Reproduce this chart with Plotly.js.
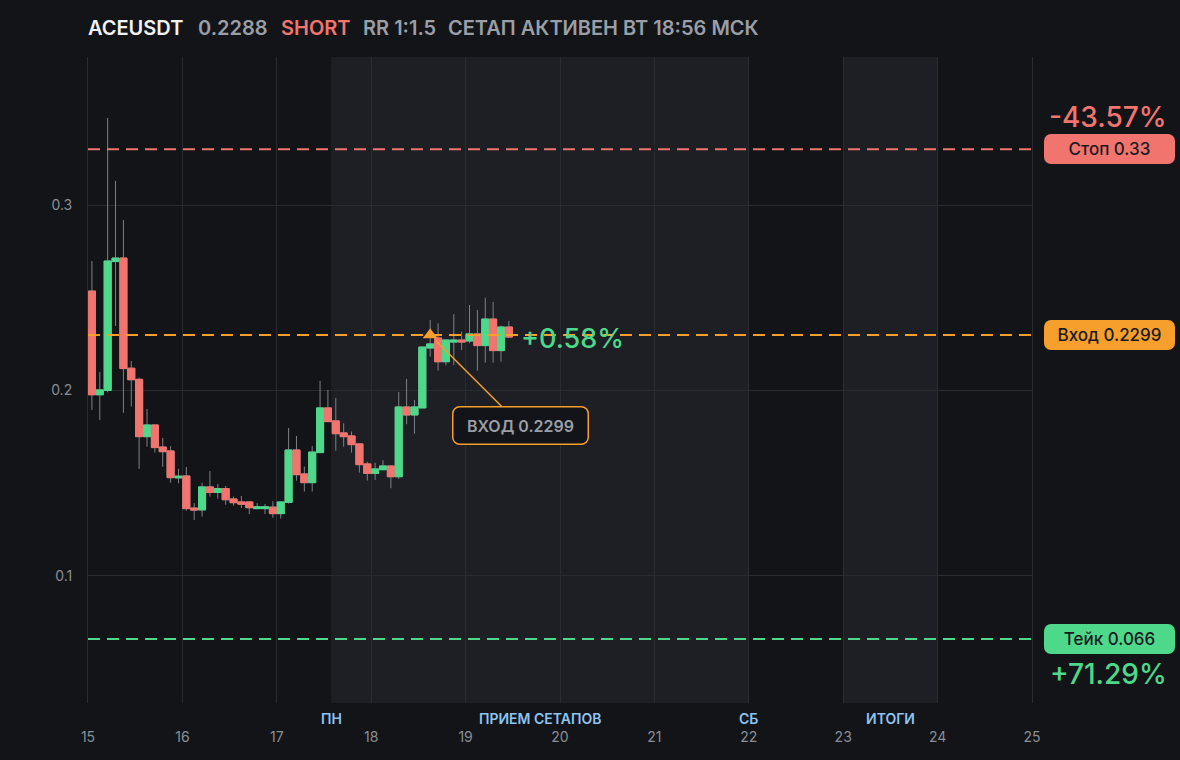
<!DOCTYPE html>
<html>
<head>
<meta charset="utf-8">
<script src="https://cdn.plot.ly/plotly-3.0.1.min.js"></script>
<style>
  html, body { margin: 0; padding: 0; background: #131418; }
  #chart { width: 1180px; height: 760px; }
</style>
</head>
<body>
<div id="chart"></div>
<script>
// ---- data (2h candles, ACEUSDT) ----
const startDay = 15;
const candleHours = 2;
const openP  = [0.2536,0.1977,0.2000,0.2695,0.2714,0.2120,0.2060,0.1751,0.1814,0.1695,
                0.1674,0.1529,0.1539,0.1366,0.1356,0.1480,0.1450,0.1471,0.1415,0.1399,
                0.1399,0.1363,0.1363,0.1371,0.1336,0.1397,0.1679,0.1550,0.1503,0.1665,
                0.1906,0.1836,0.1771,0.1755,0.1712,0.1604,0.1553,0.1573,0.1593,0.1535,
                0.1911,0.1868,0.1906,0.2229,0.2283,0.2155,0.2261,0.2272,0.2267,0.2305,
                0.2242,0.2385,0.2215,0.2342];
const highP  = [0.2698,0.2100,0.3469,0.3130,0.2919,0.2159,0.2070,0.1900,0.1814,0.1744,
                0.1700,0.1578,0.1588,0.1393,0.1503,0.1566,0.1496,0.1485,0.1428,0.1431,
                0.1400,0.1393,0.1388,0.1403,0.1400,0.1798,0.1755,0.1590,0.1701,0.2051,
                0.2003,0.1960,0.1823,0.1779,0.1715,0.1616,0.1610,0.1624,0.1595,0.1992,
                0.2062,0.1949,0.2234,0.2380,0.2362,0.2275,0.2412,0.2317,0.2461,0.2434,
                0.2500,0.2477,0.2350,0.2375];
const lowP   = [0.1895,0.1841,0.1990,0.2348,0.1880,0.1913,0.1578,0.1697,0.1665,0.1589,
                0.1503,0.1500,0.1352,0.1302,0.1320,0.1428,0.1417,0.1384,0.1379,0.1366,
                0.1334,0.1360,0.1334,0.1314,0.1310,0.1390,0.1514,0.1455,0.1455,0.1665,
                0.1832,0.1675,0.1697,0.1665,0.1557,0.1514,0.1518,0.1570,0.1473,0.1524,
                0.1818,0.1767,0.1906,0.2182,0.2107,0.2135,0.2137,0.2218,0.2255,0.2107,
                0.2150,0.2150,0.2155,0.2283];
const closeP = [0.1977,0.2003,0.2698,0.2714,0.2118,0.2058,0.1751,0.1814,0.1692,0.1670,
                0.1530,0.1538,0.1363,0.1355,0.1480,0.1450,0.1471,0.1411,0.1395,0.1387,
                0.1368,0.1373,0.1373,0.1336,0.1399,0.1679,0.1546,0.1503,0.1668,0.1906,
                0.1832,0.1767,0.1751,0.1708,0.1600,0.1553,0.1577,0.1593,0.1535,0.1911,
                0.1868,0.1911,0.2234,0.2251,0.2155,0.2272,0.2272,0.2261,0.2305,0.2242,
                0.2385,0.2215,0.2342,0.2288];

const symbol = "ACEUSDT";
const lastPrice = "0.2288";
const side = "SHORT";
const rrText = "RR 1:1.5";
const statusText = "СЕТАП АКТИВЕН ВТ 18:56 МСК";

const entryPrice = 0.2299, stopPrice = 0.33, takePrice = 0.066;
const entryCandleIndex = 43;
const pnlText = "+0.58%", stopPctText = "-43.57%", takePctText = "+71.29%";

const xTicks = [15,16,17,18,19,20,21,22,23,24,25];
const yTicks = [0.1,0.2,0.3];

// session zones [start, end] in days and labels
const zones = [[17.575, 22], [23, 24]];
const zoneLabels = [
  {x: 17.575, text: "ПН"},
  {x: 19.7875, text: "ПРИЕМ СЕТАПОВ"},
  {x: 22, text: "СБ"},
  {x: 23.5, text: "ИТОГИ"}
];

// ---- colors ----
const BG = "#131418", ZONE = "#1e1f24", GRID = "#2a2b31";
const RED = "#f2746e", GREEN = "#4dd88a", ORANGE = "#f79f2c", WICK = "#7d8087";
const GRAY = "#9a9ea6", TICK = "#8a8e96", BLUE = "#8cc4f2";
const FONT = "Inter, 'Noto Sans', sans-serif";

const times = openP.map((_, i) => startDay + (i + 0.5) * candleHours / 24);
const bodyHigh = openP.map((o, i) => Math.max(o, closeP[i]));
const bodyLow  = openP.map((o, i) => Math.min(o, closeP[i]));

const wicks = {
  type: "candlestick", x: times, open: openP, high: highP, low: lowP, close: closeP,
  increasing: {line: {color: WICK, width: 1}, fillcolor: WICK},
  decreasing: {line: {color: WICK, width: 1}, fillcolor: WICK},
  hoverinfo: "skip", showlegend: false
};
const bodies = {
  type: "candlestick", x: times, open: openP, high: bodyHigh, low: bodyLow, close: closeP,
  increasing: {line: {color: GREEN, width: 1}, fillcolor: GREEN},
  decreasing: {line: {color: RED, width: 1}, fillcolor: RED},
  hoverinfo: "skip", showlegend: false
};
const entryMark = {
  type: "scatter", mode: "markers", x: [times[entryCandleIndex]], y: [entryPrice],
  marker: {symbol: "triangle-up", size: 13, color: ORANGE},
  cliponaxis: false, hoverinfo: "skip", showlegend: false
};

const shapes = [];
zones.forEach(z => shapes.push({
  type: "rect", xref: "x", yref: "paper", x0: z[0], x1: z[1], y0: 0, y1: 1,
  fillcolor: ZONE, line: {width: 0}, layer: "below"
}));
[[stopPrice, RED], [entryPrice, ORANGE], [takePrice, GREEN]].forEach(([p, c]) => shapes.push({
  type: "line", xref: "paper", yref: "y", x0: 0, x1: 1, y0: p, y1: p,
  line: {color: c, width: 2, dash: "12px,7px"}, layer: "above"
}));

const ann = [];
// title parts
const titleParts = [
  {px: 88, text: symbol, color: "#f2f2f2"},
  {px: 198, text: lastPrice, color: GRAY},
  {px: 281, text: side, color: RED},
  {px: 363, text: rrText, color: GRAY},
  {px: 448, text: statusText, color: GRAY}
];
titleParts.forEach(p => ann.push({
  xref: "paper", yref: "paper", x: (p.px - 88) / 944, y: 1 + 29 / 646,
  xanchor: "left", yanchor: "middle", showarrow: false, text: p.text,
  borderpad: 0, borderwidth: 0,
  font: {family: FONT, size: 20, weight: 600, color: p.color}
}));
// zone labels under the plot
zoneLabels.forEach(l => ann.push({
  xref: "x", yref: "paper", x: l.x, y: -15 / 646, xanchor: "center", yanchor: "middle",
  showarrow: false, text: l.text,
  font: {family: FONT, size: 14, weight: 600, color: BLUE}
}));
// entry callout
ann.push({
  xref: "x", yref: "y", x: times[entryCandleIndex], y: entryPrice,
  ax: 90, ay: 90, showarrow: true, arrowhead: 0, arrowwidth: 1.5, arrowcolor: ORANGE,
  standoff: 8, text: "ВХОД " + entryPrice, bgcolor: "#131419", bordercolor: ORANGE,
  borderwidth: 1.5, borderpad: 5, width: 124, height: 26,
  font: {family: FONT, size: 16, weight: 600, color: GRAY}
});
// live pnl
ann.push({
  xref: "x", yref: "y", x: times[times.length - 1], y: closeP[closeP.length - 1],
  xanchor: "left", yanchor: "middle", xshift: 10, yshift: -1, showarrow: false, text: pnlText,
  font: {family: FONT, size: 27, weight: 500, color: GREEN}
});
// right-side level boxes
[["Стоп " + stopPrice, stopPrice, RED], ["Вход " + entryPrice, entryPrice, ORANGE],
 ["Тейк " + takePrice, takePrice, GREEN]].forEach(([t, p, c]) => ann.push({
  xref: "paper", yref: "y", x: (1109.5 - 88) / 944, y: p, xanchor: "center", yanchor: "middle",
  showarrow: false, text: t, bgcolor: c, borderpad: 0, borderwidth: 0, width: 131, height: 30,
  font: {family: FONT, size: 17, weight: 500, color: "#1a1b1f"}
}));
ann.push({
  xref: "paper", yref: "y", x: (1169 - 88) / 944, y: stopPrice, yshift: 32,
  xanchor: "right", yanchor: "middle", showarrow: false, text: stopPctText,
  font: {family: FONT, size: 28, weight: 500, color: RED}
});
ann.push({
  xref: "paper", yref: "y", x: (1169 - 88) / 944, y: takePrice, yshift: -35,
  xanchor: "right", yanchor: "middle", showarrow: false, text: takePctText,
  font: {family: FONT, size: 28, weight: 500, color: GREEN}
});

const layout = {
  width: 1180, height: 760,
  margin: {l: 88, r: 148, t: 57, b: 57, pad: 0},
  paper_bgcolor: BG, plot_bgcolor: BG,
  font: {family: FONT, color: TICK},
  showlegend: false, boxgap: 0.1, boxgroupgap: 0, boxmode: "overlay", hovermode: false,
  xaxis: {
    type: "linear", range: [15, 25], tickvals: xTicks, ticktext: xTicks.map(String),
    showgrid: true, gridcolor: GRID, gridwidth: 1, zeroline: false, showline: false,
    ticks: "", ticklabelstandoff: 24, tickfont: {family: FONT, size: 14, color: TICK},
    rangeslider: {visible: false}, fixedrange: true
  },
  yaxis: {
    range: [0.0315, 0.3798], tickvals: yTicks, ticktext: yTicks.map(String),
    showgrid: true, gridcolor: GRID, gridwidth: 1, zeroline: false,
    showline: true, mirror: true, linecolor: GRID, linewidth: 1,
    ticks: "", ticklabelstandoff: 12, tickfont: {family: FONT, size: 14, color: TICK},
    fixedrange: true
  },
  shapes: shapes,
  annotations: ann
};

Plotly.newPlot("chart", [wicks, bodies, entryMark], layout, {displayModeBar: false, staticPlot: true})
  .then(() => {
    document.querySelectorAll("#chart .annotation rect.bg").forEach(r => {
      r.setAttribute("rx", 7); r.setAttribute("ry", 7);
    });
  });
</script>
</body>
</html>
